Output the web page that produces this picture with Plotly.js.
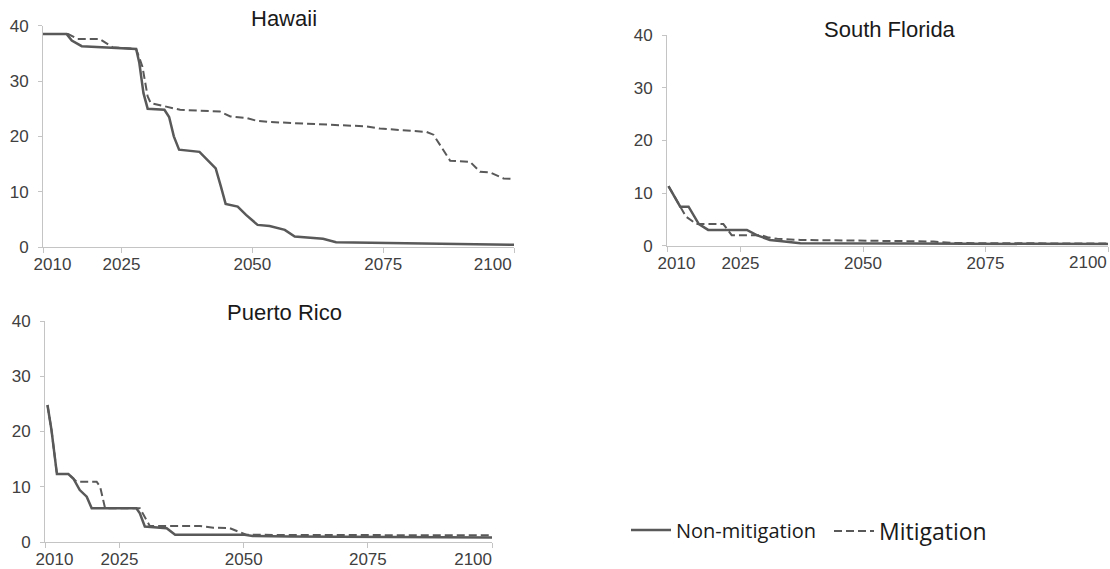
<!DOCTYPE html>
<html>
<head>
<meta charset="utf-8">
<script src="https://cdn.plot.ly/plotly-3.0.1.min.js"></script>
<style>
  html, body { margin: 0; padding: 0; background: #ffffff; }
  #chart { width: 1110px; height: 569px; }
</style>
</head>
<body>
<div id="chart"></div>
<script>
// ---------------- data ----------------
const regions = ['Hawaii', 'South Florida', 'Puerto Rico'];
const seriesNames = ['Non-mitigation', 'Mitigation'];
const tickYears = [2010, 2025, 2050, 2075, 2100];
const tickLabels = ['2010', '2025', '2050', '2075', '2100'];
const yTicks = [0, 10, 20, 30, 40];

const hawaiiNonMitYears = [2010, 2014.5, 2015.5, 2017.4, 2027.8, 2028.4, 2029.2, 2030, 2033.2, 2034.1, 2035, 2036, 2039.9, 2041.2, 2043, 2044, 2044.9, 2047.2, 2048.8, 2051, 2053.3, 2056.2, 2058.1, 2063.5, 2066, 2100];
const hawaiiNonMit = [38.5, 38.5, 37.3, 36.3, 35.8, 33.3, 27.8, 25.0, 24.8, 23.5, 20.0, 17.6, 17.2, 16.0, 14.2, 10.9, 7.8, 7.3, 5.8, 4.0, 3.8, 3.1, 1.9, 1.5, 0.85, 0.4];

const hawaiiMitYears = [2010, 2014.8, 2016.6, 2020.8, 2023.3, 2027.8, 2029, 2030, 2030.6, 2033.5, 2036.2, 2043.8, 2045.8, 2049, 2050.9, 2053.3, 2063.5, 2071.8, 2074.4, 2083.3, 2084.6, 2087.8, 2091.6, 2093.5, 2095.4, 2098, 2100];
const hawaiiMit = [38.5, 38.5, 37.6, 37.6, 36.1, 35.8, 32.6, 27.2, 26.0, 25.4, 24.8, 24.5, 23.6, 23.3, 22.8, 22.6, 22.1, 21.8, 21.4, 20.8, 20.3, 15.6, 15.4, 13.6, 13.5, 12.4, 12.3];

const floridaNonMitYears = [2010.3, 2011.4, 2012.7, 2014.4, 2015.8, 2016.5, 2018.4, 2026.3, 2028.3, 2031, 2033, 2037.2, 2060, 2100];
const floridaNonMit = [11.3, 9.6, 7.4, 7.4, 5.2, 4.1, 3.0, 3.0, 2.0, 1.1, 0.9, 0.45, 0.4, 0.3];

const floridaMitYears = [2010.3, 2011.4, 2012.7, 2013.9, 2016, 2021.5, 2023.2, 2029.2, 2030.5, 2032.5, 2037.2, 2044, 2064.4, 2068.4, 2100];
const floridaMit = [11.3, 9.6, 7.4, 5.5, 4.1, 4.1, 2.0, 2.0, 1.6, 1.3, 1.1, 1.0, 0.8, 0.5, 0.4];

const prNonMitYears = [2010.5, 2011.3, 2012.4, 2014.7, 2015.7, 2017, 2018.4, 2019.4, 2028.4, 2029.1, 2030.1, 2034.5, 2036.2, 2050.2, 2051.8, 2059.3, 2100];
const prNonMit = [24.8, 20.3, 12.3, 12.3, 11.5, 9.4, 8.2, 6.1, 6.1, 5.2, 2.8, 2.5, 1.3, 1.3, 1.1, 1.0, 0.8];

const prMitYears = [2010.5, 2011.3, 2012.4, 2014.7, 2016.4, 2020.4, 2021.1, 2022.1, 2029.1, 2030.5, 2031.1, 2041.2, 2043.9, 2047.2, 2050.6, 2100];
const prMit = [24.8, 20.3, 12.3, 12.3, 10.9, 10.9, 10.0, 6.1, 6.1, 4.0, 2.9, 2.9, 2.6, 2.5, 1.3, 1.2];

// ---------------- styling / layout ----------------
const W = 1110, H = 569;
const LINE = '#595959';
const tickFont = { family: 'Liberation Sans, Arial, sans-serif', size: 17, color: '#404040' };
const titleFont = { family: 'Liberation Sans, Arial, sans-serif', size: 22, color: '#1a1a1a' };

function px2fx(p) { return p / W; }
function py2fy(p) { return 1 - p / H; }

// padding (non-breaking spaces) to pull end labels inward like the original;
// rightPad < 0 means the last label is drawn as a right-aligned annotation instead
function padded(leftPad, rightPad) {
  const nb = '\u00A0';
  return tickLabels.map((t, i) => {
    if (i === 0) return nb.repeat(leftPad) + t;
    if (i === tickLabels.length - 1) return rightPad < 0 ? '' : t + nb.repeat(rightPad);
    return t;
  });
}

const panels = [
  { xa: 'x',  ya: 'y',  xd: [px2fx(43), px2fx(514)],  yd: [py2fy(247), py2fy(25.7)], pad: [4, 9],
    nm: [hawaiiNonMitYears, hawaiiNonMit], m: [hawaiiMitYears, hawaiiMit], title: regions[0], tx: 284, ty: 19, ly: 263 },
  { xa: 'x2', ya: 'y2', xd: [px2fx(667), px2fx(1108)], yd: [py2fy(245.7), py2fy(35)], pad: [4, -1],
    nm: [floridaNonMitYears, floridaNonMit], m: [floridaMitYears, floridaMit], title: regions[1], tx: 890, ty: 30, ly: 262 },
  { xa: 'x3', ya: 'y3', xd: [px2fx(45), px2fx(492)],  yd: [py2fy(542), py2fy(321)], pad: [4, 8],
    nm: [prNonMitYears, prNonMit], m: [prMitYears, prMit], title: regions[2], tx: 284, ty: 312, ly: 558 }
];

const traces = [];
const layout = {
  width: W, height: H,
  margin: { l: 0, r: 0, t: 0, b: 0 },
  paper_bgcolor: '#ffffff', plot_bgcolor: '#ffffff',
  showlegend: true,
  annotations: [],
  legend: {
    x: px2fx(626), y: py2fy(530), xanchor: 'left', yanchor: 'middle',
    bgcolor: 'rgba(0,0,0,0)', borderwidth: 0, itemwidth: 40,
    font: { family: 'Open Sans, Noto Sans, sans-serif', size: 20, color: '#1a1a1a' }
  },
  legend2: {
    x: px2fx(829), y: py2fy(531), xanchor: 'left', yanchor: 'middle',
    bgcolor: 'rgba(0,0,0,0)', borderwidth: 0, itemwidth: 40,
    font: { family: 'Open Sans, Noto Sans, sans-serif', size: 23, color: '#1a1a1a' }
  }
};

panels.forEach((p, i) => {
  traces.push({
    x: p.nm[0], y: p.nm[1], xaxis: p.xa, yaxis: p.ya, type: 'scatter', mode: 'lines',
    name: seriesNames[0], line: { color: LINE, width: 2.5 },
    showlegend: i === 0, legend: 'legend', hoverinfo: 'skip'
  });
  traces.push({
    x: p.m[0], y: p.m[1], xaxis: p.xa, yaxis: p.ya, type: 'scatter', mode: 'lines',
    name: seriesNames[1], line: { color: LINE, width: 2, dash: '8px,4px' },
    showlegend: i === 0, legend: 'legend2', hoverinfo: 'skip'
  });
  const xk = 'xaxis' + (i === 0 ? '' : i + 1);
  const yk = 'yaxis' + (i === 0 ? '' : i + 1);
  layout[xk] = {
    domain: p.xd, range: [2010, 2100], anchor: p.ya,
    tickmode: 'array', tickvals: tickYears, ticktext: padded(p.pad[0], p.pad[1]),
    showline: true, linecolor: '#c4c4c4', linewidth: 1,
    ticks: 'outside', ticklen: 5, tickcolor: '#c4c4c4', tickwidth: 1,
    ticklabelstandoff: -3, ticklabeloverflow: 'allow',
    showgrid: false, zeroline: false, tickfont: tickFont, fixedrange: true
  };
  layout[yk] = {
    domain: p.yd, range: [0, 40], anchor: p.xa,
    tickmode: 'array', tickvals: yTicks, ticktext: yTicks.map(String),
    showline: true, linecolor: '#c4c4c4', linewidth: 1,
    ticks: 'outside', ticklen: 4, tickcolor: '#c4c4c4', tickwidth: 1,
    ticklabelstandoff: 6,
    showgrid: false, zeroline: false, tickfont: tickFont, fixedrange: true
  };
  layout.annotations.push({
    text: p.title, xref: 'paper', yref: 'paper',
    x: px2fx(p.tx), y: py2fy(p.ty), xanchor: 'center', yanchor: 'middle',
    showarrow: false, font: titleFont
  });
  if (p.pad[1] < 0) {
    layout.annotations.push({
      text: tickLabels[tickLabels.length - 1], xref: p.xa, yref: 'paper',
      x: tickYears[tickYears.length - 1], y: py2fy(p.ly), xanchor: 'right', yanchor: 'middle',
      showarrow: false, font: tickFont, borderpad: 0
    });
  }
});

Plotly.newPlot('chart', traces, layout, { staticPlot: true, displayModeBar: false });
</script>
</body>
</html>
